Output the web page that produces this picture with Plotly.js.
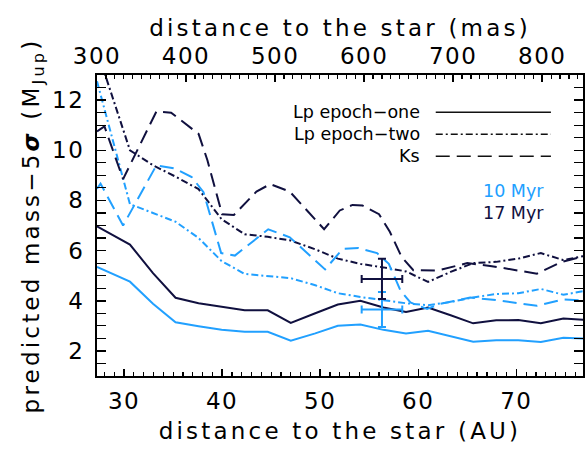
<!DOCTYPE html>
<html>
<head>
<meta charset="utf-8">
<script src="https://cdn.plot.ly/plotly-3.0.1.min.js"></script>
<style>
  html, body { margin: 0; padding: 0; background: #fff; }
  #chart { width: 586px; height: 458px; }
  .xtitle, .x2title, .ytitle { letter-spacing: 3.2px; }
  .xtick text, .x2tick text, .ytick text { letter-spacing: 1.5px; }
</style>
</head>
<body>
<div id="chart"></div>
<script>
// ---------------- data ----------------
const distancePc = 90.8;              // AU = mas * pc / 1000
const xRangeAU = [27.24, 76.8];
const yRange = [1, 13];

// Lp sampling (AU)
const auLp = [27.24, 30.6, 32.95, 35.25, 37.6, 39.95, 42.3, 44.65, 47.0, 49.5, 51.8,
              54.1, 56.45, 58.75, 61.0, 63.3, 65.6, 67.95, 70.2, 72.5, 74.8, 77.1];

// Lp epoch-one (solid)
const lp1_17Myr = [6.97, 6.24, 5.10, 4.12, 3.90, 3.76, 3.62, 3.62, 3.12, 3.50, 3.85,
                   4.00, 3.73, 3.55, 3.73, 3.42, 3.10, 3.22, 3.23, 3.10, 3.29, 3.24];
const lp1_10Myr = [5.35, 4.76, 3.88, 3.14, 2.98, 2.84, 2.76, 2.76, 2.41, 2.70, 3.00,
                   3.05, 2.84, 2.69, 2.80, 2.58, 2.37, 2.43, 2.43, 2.36, 2.52, 2.49];

// Lp epoch-two (dash-dot)
const lp2_17Myr = [14.0, 10.0, 9.40, 8.95, 8.45, 7.25, 6.65, 6.55, 6.40, 6.05, 5.68,
                   5.47, 5.33, 5.17, 4.75, 5.15, 5.50, 5.55, 5.68, 5.90, 5.62, 5.80];
const lp2_10Myr = [12.75, 7.85, 7.50, 7.15, 6.50, 5.58, 5.07, 5.00, 4.90, 4.62, 4.30,
                   4.15, 4.03, 3.90, 3.82, 3.95, 4.13, 4.27, 4.30, 4.47, 4.24, 4.40];

// Ks (dashed)
const auKs17 = [27.24, 28.0, 29.9, 33.3, 34.8, 37.6, 38.5, 40.0, 41.2, 43.5, 44.9, 46.9,
                50.4, 52.0, 53.3, 54.3, 56.0, 57.1, 58.3, 59.5, 61.9, 65.0, 67.5, 69.7,
                72.1, 74.5, 77.1];
const ks_17Myr = [10.75, 10.95, 8.85, 11.55, 11.50, 10.65, 9.60, 7.45, 7.42, 8.35, 8.65, 8.35,
                  6.85, 7.60, 7.82, 7.80, 7.45, 6.75, 5.75, 5.22, 5.20, 5.50, 5.38, 5.23,
                  5.08, 5.53, 5.80];
const auKs10 = [27.24, 27.6, 29.9, 33.3, 35.2, 36.9, 38.1, 39.9, 41.3, 44.7, 46.9, 50.5,
                52.3, 53.9, 55.8, 57.0, 58.2, 59.2, 60.9, 62.2, 65.3, 67.9, 72.1, 74.8, 77.1];
const ks_10Myr = [8.47, 8.67, 7.00, 9.40, 9.27, 8.93, 8.33, 5.90, 5.80, 6.85, 6.53, 5.25,
                  6.07, 6.10, 5.90, 5.47, 4.40, 3.93, 3.67, 3.87, 4.13, 4.03, 3.80, 4.05, 4.00];

// detection estimates (error crosses)
const candAU = [56.3];
const candAUerr = [2.07];
const cand17Myr = [4.87];
const cand17Err = [0.8];
const cand10Myr = [3.65];
const cand10Err = [0.7];

// legend / labels
const legendLabels = ['Lp epoch\u2212one', 'Lp epoch\u2212two', 'Ks'];
const legendDashes = ['solid', '7px,3px,2px,3px', '14px,7px'];
const ageLabels = ['10 Myr', '17 Myr'];

const colLight = '#21A0FF';
const colDark = '#10103F';
const ageColors = [colLight, colDark];
const FONT = 'DejaVu Sans, Verdana, sans-serif';
const NB = '\u00a0';

// ---------------- traces ----------------
function line(x, y, color, dash) {
  return { x: x, y: y, type: 'scatter', mode: 'lines', xaxis: 'x', yaxis: 'y',
           line: { color: color, width: 2, dash: dash }, hoverinfo: 'skip', showlegend: false };
}
const traces = [
  line(auLp, lp1_10Myr, colLight, legendDashes[0]),
  line(auLp, lp1_17Myr, colDark, legendDashes[0]),
  line(auLp, lp2_10Myr, colLight, legendDashes[1]),
  line(auLp, lp2_17Myr, colDark, legendDashes[1]),
  line(auKs10, ks_10Myr, colLight, legendDashes[2]),
  line(auKs17, ks_17Myr, colDark, legendDashes[2])
];
function cross(y, ey, color) {
  return { x: candAU, y: y, type: 'scatter', mode: 'markers', xaxis: 'x', yaxis: 'y',
           marker: { size: 1, color: color, opacity: 0 },
           error_x: { type: 'data', array: candAUerr, visible: true, color: color, thickness: 2, width: 4 },
           error_y: { type: 'data', array: ey, visible: true, color: color, thickness: 2, width: 4 },
           hoverinfo: 'skip', showlegend: false };
}
traces.push(cross(cand10Myr, cand10Err, colLight));
traces.push(cross(cand17Myr, cand17Err, colDark));

// invisible trace that carries the top (mas) axis
const x2Range = xRangeAU.map(v => v * 1000 / distancePc);
traces.push({ x: x2Range, y: [null, null], type: 'scatter', mode: 'lines', xaxis: 'x2', yaxis: 'y',
              hoverinfo: 'skip', showlegend: false, line: { width: 0 } });

// ---------------- legend (annotations + sample lines) ----------------
const annotations = [];
const shapes = [];
const legTextX = 0.668, legLineX0 = 0.697, legLineX1 = 0.934;
const legRowY0 = 0.876, legRowStep = 0.073;
legendLabels.forEach((lab, i) => {
  const yy = legRowY0 - i * legRowStep;
  annotations.push({ xref: 'paper', yref: 'paper', x: legTextX, y: yy, text: lab,
                     showarrow: false, xanchor: 'right', yanchor: 'middle',
                     font: { family: FONT, size: 17.5, color: '#000' } });
  shapes.push({ type: 'line', xref: 'paper', yref: 'paper', x0: legLineX0, x1: legLineX1, y0: yy, y1: yy,
                line: { color: '#111', width: 1.5, dash: legendDashes[i] } });
});
const ageX = 0.924, ageY0 = 0.615, ageStep = 0.074;
ageLabels.forEach((lab, i) => {
  annotations.push({ xref: 'paper', yref: 'paper', x: ageX, y: ageY0 - i * ageStep, text: lab,
                     showarrow: false, xanchor: 'right', yanchor: 'middle',
                     font: { family: FONT, size: 17.5, color: ageColors[i] } });
});

// ---------------- layout ----------------
const tickFont = { family: FONT, size: 23, color: '#000' };
const titleFont = { family: FONT, size: 23, color: '#000' };
const layout = {
  width: 586, height: 458,
  margin: { l: 97, r: 3, t: 75, b: 82, pad: 0 },
  paper_bgcolor: '#fff', plot_bgcolor: '#fff',
  showlegend: false,
  font: { family: FONT, color: '#000' },
  xaxis: {
    range: xRangeAU, autorange: false,
    tick0: 0, dtick: 10,
    ticks: 'inside', ticklen: 7, tickwidth: 1.5, tickcolor: '#000',
    minor: { dtick: 1, ticks: 'inside', ticklen: 4, tickwidth: 1.2, tickcolor: '#000' },
    showline: true, linewidth: 2, linecolor: '#000', mirror: false,
    showgrid: false, zeroline: false,
    tickfont: tickFont, ticklabelstandoff: 3,
    title: { text: NB + NB + 'distance to the star (AU)', font: titleFont, standoff: 10 }
  },
  xaxis2: {
    overlaying: 'x', side: 'top', anchor: 'y',
    range: x2Range, autorange: false,
    tick0: 0, dtick: 100,
    ticks: 'inside', ticklen: 7, tickwidth: 1.5, tickcolor: '#000',
    minor: { dtick: 10, ticks: 'inside', ticklen: 4, tickwidth: 1.2, tickcolor: '#000' },
    showline: true, linewidth: 2, linecolor: '#000',
    showgrid: false, zeroline: false,
    tickfont: tickFont, ticklabelstandoff: 0,
    title: { text: 'distance to the star (mas)' + NB, font: titleFont, standoff: 0 }
  },
  yaxis: {
    range: yRange, autorange: false,
    tick0: 0, dtick: 2,
    ticks: 'inside', ticklen: 9, tickwidth: 1.5, tickcolor: '#000',
    minor: { dtick: 0.5, ticks: 'inside', ticklen: 5, tickwidth: 1.2, tickcolor: '#000' },
    showline: true, linewidth: 2, linecolor: '#000', mirror: 'allticks',
    showgrid: false, zeroline: false,
    tickfont: tickFont, ticklabelstandoff: 6,
    title: { text: NB + NB + 'predicted mass\u22125<b><i>\u03c3</i></b> (M<sub>Jup</sub>)', font: titleFont, standoff: 6 }
  },
  annotations: annotations,
  shapes: shapes
};

Plotly.newPlot('chart', traces, layout, { staticPlot: true, displayModeBar: false });
</script>
</body>
</html>
